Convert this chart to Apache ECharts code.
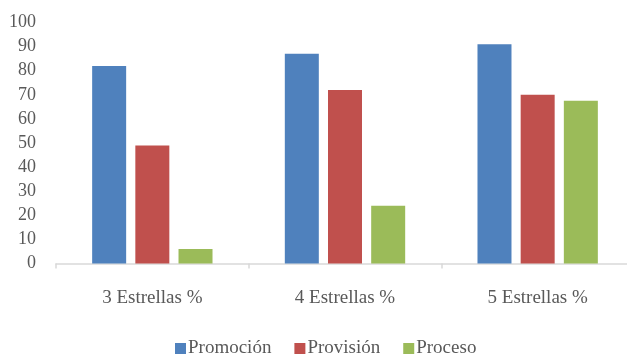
<!DOCTYPE html>
<html>
<head>
<meta charset="utf-8">
<script src="https://cdn.jsdelivr.net/npm/echarts@6/dist/echarts.min.js"></script>
<style>
  html, body { margin: 0; padding: 0; background: #fff; }
  #chart { width: 627px; height: 355px; }
</style>
</head>
<body>
<div id="chart"></div>
<script>
// categorías del eje x
const categories = ["3 Estrellas %", "4 Estrellas %", "5 Estrellas %"];
// valores de cada serie
const promocion = [82, 87, 91];
const provision = [49, 72, 70];
const proceso = [6, 24, 67.5];

const fontFamily = "'Liberation Serif', 'Times New Roman', serif";
const textColor = "#595959";

const chart = echarts.init(document.getElementById("chart"));

function barSeries(name, data, color) {
  return {
    name: name,
    type: "bar",
    data: data,
    barWidth: 34,
    barGap: "27%",
    itemStyle: { color: color }
  };
}

chart.setOption({
  animation: false,
  textStyle: { fontFamily: fontFamily },
  grid: { left: 56, width: 578, top: 22.5, bottom: 91.5, outerBoundsMode: "none" },
  legend: {
    top: 334,
    left: 170,
    itemWidth: 11,
    itemHeight: 11,
    itemGap: 23,
    icon: "rect",
    textStyle: { fontSize: 19, color: textColor, fontFamily: fontFamily, padding: [0, 0, 0, -3] },
    data: ["Promoción", "Provisión", "Proceso"]
  },
  xAxis: {
    type: "category",
    data: categories,
    axisLine: { lineStyle: { color: "#d9d9d9", width: 1.5 } },
    axisTick: { show: true, length: 5, lineStyle: { color: "#d9d9d9", width: 1.5 } },
    axisLabel: { fontSize: 19, color: textColor, margin: 25, fontFamily: fontFamily }
  },
  yAxis: {
    type: "value",
    min: 0,
    max: 100,
    interval: 10,
    axisLine: { show: false },
    axisTick: { show: false },
    splitLine: { show: false },
    axisLabel: { fontSize: 18, color: textColor, margin: 20, fontFamily: fontFamily }
  },
  series: [
    barSeries("Promoción", promocion, "#4f81bd"),
    barSeries("Provisión", provision, "#c0504d"),
    barSeries("Proceso", proceso, "#9bbb59")
  ]
});
</script>
</body>
</html>
